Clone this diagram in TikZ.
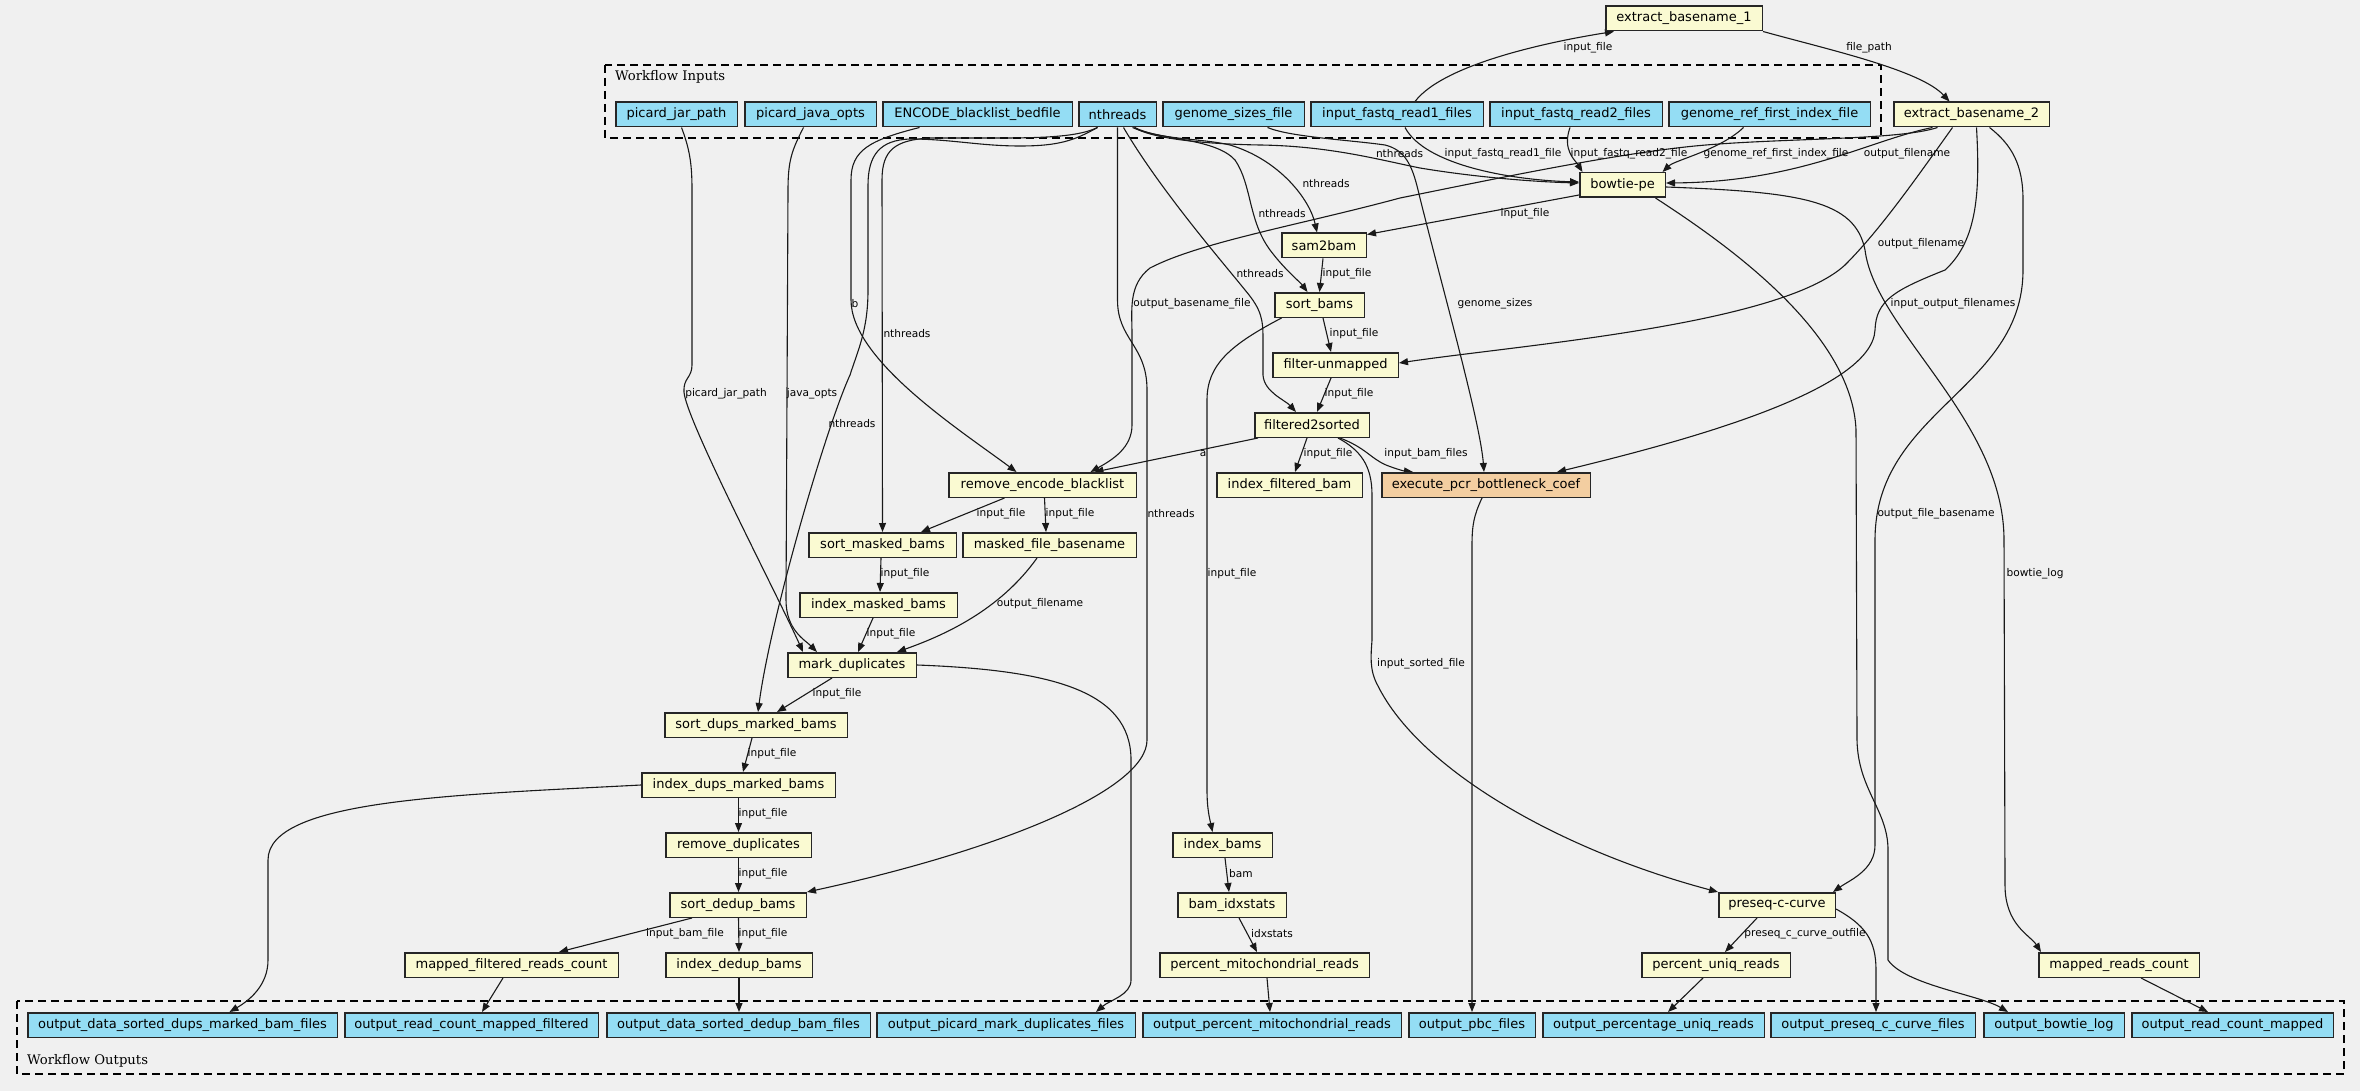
\documentclass[tikz,border=0pt]{standalone}
\usepackage{fontspec}
\setmainfont{DejaVu Sans}
\newfontfamily\ttlfont{DejaVu Serif}
\usetikzlibrary{arrows.meta}
\definecolor{bgc}{HTML}{F0F0F0}
\definecolor{inblue}{HTML}{94DDF4}
\definecolor{stepyel}{HTML}{FAFAD2}
\definecolor{pcrorange}{HTML}{F3CEA1}
\pgfdeclarelayer{bgl}
\pgfdeclarelayer{edgel}
\pgfsetlayers{bgl,edgel,main}
\begin{document}
\begin{tikzpicture}[x=1pt,y=-1pt,
  box/.style={draw=black!85, line width=1.5pt, inner sep=0pt, minimum height=24.5pt, font=\fontsize{13}{15}\selectfont},
  inp/.style={box, fill=inblue},
  stp/.style={box, fill=stepyel},
  pcr/.style={box, fill=pcrorange},
  edge/.style={draw=black!90, line width=1.1pt, -{Triangle[length=9pt,width=7pt]}},
  lbl/.style={font=\fontsize{10.6}{12}\selectfont, inner sep=0pt},
  cluster/.style={draw=black, line width=1.3pt, dash pattern=on 8pt off 5pt},
  ttl/.style={font=\ttlfont\fontsize{13.2}{15}\selectfont, anchor=west, inner sep=0pt}]
\useasboundingbox (0,0) rectangle (2360,1091);
\begin{pgfonlayer}{bgl}
\fill[bgc] (0,0) rectangle (2360,1091);
\draw[cluster] (605,65) rectangle (1881,138);
\draw[cluster] (17,1001) rectangle (2344,1074);
\end{pgfonlayer}
\node[ttl] (tin) at (615,77) {Workflow Inputs};
\node[ttl] (tout) at (27,1061) {Workflow Outputs};
% inputs
\node[inp, minimum width=121.5pt] (pjp) at (676.5,114.5) {picard\_jar\_path};
\node[inp, minimum width=131.5pt] (pjo) at (810.5,114.5) {picard\_java\_opts};
\node[inp, minimum width=189.5pt] (enc) at (977.5,114.5) {ENCODE\_blacklist\_bedfile};
\node[inp, minimum width=77.5pt] (nth) at (1117.5,114.5) {nthreads};
\node[inp, minimum width=141.5pt] (gsf) at (1233.5,114.5) {genome\_sizes\_file};
\node[inp, minimum width=172.5pt] (fq1) at (1397,114.5) {input\_fastq\_read1\_files};
\node[inp, minimum width=172.5pt] (fq2) at (1576,114.5) {input\_fastq\_read2\_files};
\node[inp, minimum width=201.5pt] (gref) at (1769.5,114.5) {genome\_ref\_first\_index\_file};
% steps
\node[stp, minimum width=155.5pt] (eb2) at (1971.5,114.5) {extract\_basename\_2};
\node[stp, minimum width=156.5pt] (eb1) at (1684,18.5) {extract\_basename\_1};
\node[stp, minimum width=85.5pt] (bow) at (1622.5,185) {bowtie-pe};
\node[stp, minimum width=84.5pt] (s2b) at (1324,245.5) {sam2bam};
\node[stp, minimum width=89.5pt] (sb) at (1319.5,305) {sort\_bams};
\node[stp, minimum width=125.5pt] (fu) at (1335.5,365) {filter-unmapped};
\node[stp, minimum width=114.5pt] (f2s) at (1312,425) {filtered2sorted};
\node[stp, minimum width=187.5pt] (rem) at (1042.5,485) {remove\_encode\_blacklist};
\node[stp, minimum width=145.5pt] (ifb) at (1289.5,485) {index\_filtered\_bam};
\node[pcr, minimum width=208.5pt] (ex) at (1486,485) {execute\_pcr\_bottleneck\_coef};
\node[stp, minimum width=147.5pt] (smb) at (882.5,545) {sort\_masked\_bams};
\node[stp, minimum width=173.5pt] (mfb) at (1049.5,545) {masked\_file\_basename};
\node[stp, minimum width=157.5pt] (imb) at (878.5,605) {index\_masked\_bams};
\node[stp, minimum width=128.5pt] (md) at (852,665) {mark\_duplicates};
\node[stp, minimum width=182.5pt] (sdm) at (756,725) {sort\_dups\_marked\_bams};
\node[stp, minimum width=193.5pt] (idm) at (738.5,785) {index\_dups\_marked\_bams};
\node[stp, minimum width=145.5pt] (rd) at (738.5,845) {remove\_duplicates};
\node[stp, minimum width=136.5pt] (sdb) at (738,905) {sort\_dedup\_bams};
\node[stp, minimum width=213.5pt] (mfrc) at (511.5,965) {mapped\_filtered\_reads\_count};
\node[stp, minimum width=146.5pt] (idb) at (739,965) {index\_dedup\_bams};
\node[stp, minimum width=99.5pt] (ib) at (1222.5,845) {index\_bams};
\node[stp, minimum width=108.5pt] (bix) at (1232,905) {bam\_idxstats};
\node[stp, minimum width=209.5pt] (pmr) at (1264.5,965) {percent\_mitochondrial\_reads};
\node[stp, minimum width=116.5pt] (pc) at (1777,905) {preseq-c-curve};
\node[stp, minimum width=148.5pt] (pur) at (1716,965) {percent\_uniq\_reads};
\node[stp, minimum width=160.5pt] (mrc) at (2119,965) {mapped\_reads\_count};
% outputs
\node[inp, minimum width=309.5pt] (o1) at (182.5,1025) {output\_data\_sorted\_dups\_marked\_bam\_files};
\node[inp, minimum width=253.5pt] (o2) at (471.5,1025) {output\_read\_count\_mapped\_filtered};
\node[inp, minimum width=263.5pt] (o3) at (738.5,1025) {output\_data\_sorted\_dedup\_bam\_files};
\node[inp, minimum width=258.5pt] (o4) at (1006,1025) {output\_picard\_mark\_duplicates\_files};
\node[inp, minimum width=258.5pt] (o5) at (1272,1025) {output\_percent\_mitochondrial\_reads};
\node[inp, minimum width=126.5pt] (o6) at (1472,1025) {output\_pbc\_files};
\node[inp, minimum width=221.5pt] (o7) at (1653.5,1025) {output\_percentage\_uniq\_reads};
\node[inp, minimum width=204.5pt] (o8) at (1873,1025) {output\_preseq\_c\_curve\_files};
\node[inp, minimum width=140.5pt] (o9) at (2054,1025) {output\_bowtie\_log};
\node[inp, minimum width=201.5pt] (o10) at (2232.5,1025) {output\_read\_count\_mapped};
% edges
\begin{pgfonlayer}{edgel}
\draw[edge] ([xshift=18pt]fq1.north) .. controls (1445,62) and (1560,40) .. ([xshift=-70pt]eb1.south);
\draw[edge] (eb1.south east) .. controls (1830,50) and (1920,70) .. ([xshift=-22pt]eb2.north);
\draw[edge] ([xshift=8pt]fq1.south) .. controls (1425,165) and (1510,180) .. ([yshift=3pt]bow.west);
\draw[edge] ([xshift=-6pt]fq2.south) .. controls (1562,150) and (1575,160) .. ([xshift=-40pt]bow.north);
\draw[edge] ([xshift=-26pt]gref.south) .. controls (1720,150) and (1675,160) .. ([xshift=40pt]bow.north);
\draw[edge] ([xshift=-39pt]eb2.south) .. controls (1870,140) and (1800,182) .. ([yshift=2pt]bow.east);
\draw[edge] ([xshift=-34pt]eb2.south) .. controls (1900,140) and (1790,138) .. (1706,145) .. controls (1620,152) and (1480,182) .. (1400,198) .. controls (1300,225) and (1200,242) .. (1150,268) .. controls (1128,285) and (1132,310) .. (1132,335) -- (1132,425) .. controls (1132,448) and (1112,460) .. ([xshift=48pt]rem.north);
\draw[edge] ([xshift=-19pt]eb2.south) .. controls (1915,180) and (1880,230) .. (1845,265) .. controls (1780,325) and (1520,345) .. ([yshift=2pt]fu.east);
\draw[edge] ([xshift=5pt]eb2.south) .. controls (1980,190) and (1978,240) .. (1945,270) .. controls (1895,290) and (1876,300) .. (1875,330) .. controls (1872,390) and (1690,440) .. ([xshift=71pt]ex.north);
\draw[edge] ([xshift=18pt]eb2.south) .. controls (2012,145) and (2023,165) .. (2023,200) -- (2023,270) .. controls (2023,390) and (1875,410) .. (1875,540) -- (1875,845) .. controls (1875,870) and (1850,880) .. ([xshift=-3pt]pc.north east);
\draw[edge] ([yshift=-2pt]bow.east) .. controls (1800,192) and (1855,200) .. (1865,250) .. controls (1875,330) and (2004,420) .. (2004,540) -- (2005,885) .. controls (2005,925) and (2030,935) .. ([xshift=-78pt]mrc.north);
\draw[edge] ([xshift=33pt]bow.south) .. controls (1720,240) and (1852,330) .. (1856,430) -- (1857,740) .. controls (1858,790) and (1888,810) .. (1888,850) -- (1888,960) .. controls (1905,985) and (1980,995) .. ([xshift=-46pt]o9.north);
\draw[edge] ([yshift=3pt]bow.south west) -- ([yshift=-2pt]s2b.north east);
\draw[edge] ([xshift=17pt]nth.south) .. controls (1150,138) and (1200,144) .. (1260,145) .. controls (1330,146) and (1380,160) .. (1420,168) .. controls (1480,178) and (1540,182) .. ([yshift=2pt]bow.west);
\draw[edge] ([xshift=17pt]nth.south) .. controls (1160,140) and (1200,138) .. (1230,145) .. controls (1280,160) and (1310,200) .. ([xshift=-7pt]s2b.north);
\draw[edge] ([xshift=15pt]nth.south) .. controls (1160,140) and (1215,138) .. (1235,160) .. controls (1252,185) and (1248,220) .. (1270,250) .. controls (1285,270) and (1300,282) .. ([xshift=-12pt]sb.north);
\draw[edge] ([xshift=6pt]nth.south) .. controls (1160,190) and (1225,265) .. (1245,290) .. controls (1262,310) and (1263,320) .. (1263,340) -- (1263,375) .. controls (1264,392) and (1285,400) .. ([xshift=-16pt]f2s.north);
\draw[edge] (nth.south) -- (1117.5,300) .. controls (1117.5,340) and (1147,345) .. (1147,390) -- (1147,740) .. controls (1147,790) and (1000,850) .. (sdb.north east);
\draw[edge] ([xshift=-20pt]nth.south) .. controls (1080,136) and (1050,138) .. (1000,138) -- (930,138) .. controls (895,140) and (882,150) .. (882,180) -- (smb.north);
\draw[edge] ([xshift=-20pt]nth.south) .. controls (1075,140) and (1060,146) .. (1020,146) .. controls (980,146) and (950,139) .. (910,139) .. controls (880,140) and (868,155) .. (868,185) -- (868,290) .. controls (868,330) and (858,350) .. (850,375) .. controls (825,430) and (770,620) .. ([xshift=2pt]sdm.north);
\draw[edge] ([xshift=-58pt]enc.south) .. controls (870,140) and (851,150) .. (851,180) -- (851,300) .. controls (851,360) and (960,430) .. ([xshift=-26pt]rem.north);
\draw[edge] ([xshift=5pt]pjp.south) .. controls (690,150) and (692,165) .. (692,190) -- (692,365) .. controls (692,378) and (683,378) .. (684,392) .. controls (686,420) and (775,590) .. ([xshift=-49pt]md.north);
\draw[edge] ([xshift=-7pt]pjo.south) .. controls (792,150) and (788,160) .. (788,190) -- (786,600) .. controls (786,630) and (805,640) .. ([xshift=-35pt]md.north);
\draw[edge] ([xshift=34pt]gsf.south) .. controls (1290,137) and (1350,140) .. (1385,145) .. controls (1405,150) and (1412,165) .. (1418,190) .. controls (1440,280) and (1480,420) .. ([xshift=-2pt]ex.north);
\draw[edge] ([xshift=-1pt]s2b.south) -- (sb.north);
\draw[edge] ([xshift=3.5pt]sb.south) -- ([xshift=-4.5pt]fu.north);
\draw[edge] ([xshift=-4.5pt]fu.south) -- ([xshift=5pt]f2s.north);
\draw[edge] ([xshift=-54pt]f2s.south) -- ([xshift=52pt]rem.north);
\draw[edge] ([xshift=-5pt]f2s.south) -- ([xshift=5.5pt]ifb.north);
\draw[edge] ([xshift=28pt]f2s.south) .. controls (1366,448) and (1370,458) .. (1386,465) .. controls (1396,469) and (1404,471) .. ([xshift=-73pt]ex.north);
\draw[edge] ([xshift=26pt]f2s.south) .. controls (1360,450) and (1372,465) .. (1372,495) -- (1372,640) .. controls (1371,655) and (1369,670) .. (1378,686) .. controls (1420,770) and (1560,850) .. ([xshift=-59pt]pc.north);
\draw[edge] ([xshift=-4pt]ex.south) .. controls (1474,515) and (1472,525) .. (1472,545) -- (o6.north);
\draw[edge] ([xshift=-38pt]rem.south) -- ([xshift=38.5pt]smb.north);
\draw[edge] ([xshift=2pt]rem.south) -- ([xshift=-3.5pt]mfb.north);
\draw[edge] ([xshift=-1.5pt]smb.south) -- ([xshift=1.5pt]imb.north);
\draw[edge] ([xshift=-5.5pt]imb.south) -- ([xshift=6pt]md.north);
\draw[edge] ([xshift=-12.5pt]mfb.south) .. controls (1000,610) and (945,635) .. ([xshift=45pt]md.north);
\draw[edge] ([xshift=-20pt]md.south) -- ([xshift=21pt]sdm.north);
\draw[edge] (md.east) .. controls (1050,670) and (1131,690) .. (1131,760) -- (1131,980) .. controls (1131,995) and (1110,1000) .. ([xshift=90pt]o4.north);
\draw[edge] ([xshift=-4pt]sdm.south) -- ([xshift=4.5pt]idm.north);
\draw[edge] (idm.south) -- (rd.north);
\draw[edge] (idm.west) .. controls (450,795) and (268,800) .. (268,860) -- (268,960) .. controls (268,985) and (250,1000) .. ([xshift=47pt]o1.north);
\draw[edge] (rd.south) -- ([xshift=0.5pt]sdb.north);
\draw[edge] ([xshift=-46pt]sdb.south) -- ([xshift=47.5pt]mfrc.north);
\draw[edge] ([xshift=0.5pt]sdb.south) -- (idb.north);
\draw[edge] ([xshift=-8.5pt]mfrc.south) -- ([xshift=10.5pt]o2.north);
\draw[edge] (idb.south) -- ([xshift=0.5pt]o3.north);
\draw[edge] ([xshift=-38pt]sb.south) .. controls (1230,345) and (1207,365) .. (1207,400) -- (1207,790) .. controls (1207,810) and (1210,820) .. ([xshift=-10pt]ib.north);
\draw[edge] ([xshift=2.5pt]ib.south) -- ([xshift=-3pt]bix.north);
\draw[edge] ([xshift=7pt]bix.south) -- ([xshift=-7.5pt]pmr.north);
\draw[edge] ([xshift=2.5pt]pmr.south) -- ([xshift=-2pt]o5.north);
\draw[edge] ([xshift=-20pt]pc.south) -- ([xshift=9pt]pur.north);
\draw[edge] ([yshift=-4pt]pc.east) .. controls (1865,925) and (1876,940) .. (1876,970) -- ([xshift=3pt]o8.north);
\draw[edge] ([xshift=-13pt]pur.south) -- ([xshift=14.5pt]o7.north);
\draw[edge] ([xshift=22pt]mrc.south) -- ([xshift=-24.5pt]o10.north);
\end{pgfonlayer}
% edge labels
\node[lbl] (L1) at (1588,48) {input\_file};
\node[lbl] (L2) at (1869,48) {file\_path};
\node[lbl] (L3) at (1399.5,154) {nthreads};
\node[lbl] (L4) at (1503,154) {input\_fastq\_read1\_file};
\node[lbl] (L5) at (1629,154) {input\_fastq\_read2\_file};
\node[lbl] (L6) at (1776,154) {genome\_ref\_first\_index\_file};
\node[lbl] (L7) at (1907,154) {output\_filename};
\node[lbl] (L8) at (1326,184) {nthreads};
\node[lbl] (L9) at (1282,214) {nthreads};
\node[lbl] (L10) at (1525,214) {input\_file};
\node[lbl] (L11) at (1260,274) {nthreads};
\node[lbl] (L12) at (1347,274) {input\_file};
\node[lbl] (L13) at (1921,244) {output\_filename};
\node[lbl] (L14) at (1192,304) {output\_basename\_file};
\node[lbl] (L15) at (1495,304) {genome\_sizes};
\node[lbl] (L16) at (1953,304) {input\_output\_filenames};
\node[lbl] (L17) at (855,304) {b};
\node[lbl] (L18) at (907,334) {nthreads};
\node[lbl] (L19) at (1354,334) {input\_file};
\node[lbl] (L20) at (726,394) {picard\_jar\_path};
\node[lbl] (L21) at (812,394) {java\_opts};
\node[lbl] (L22) at (1349,394) {input\_file};
\node[lbl] (L23) at (852,424) {nthreads};
\node[lbl] (L24) at (1203,454) {a};
\node[lbl] (L25) at (1328,454) {input\_file};
\node[lbl] (L26) at (1426,454) {input\_bam\_files};
\node[lbl] (L27) at (1001,514) {input\_file};
\node[lbl] (L28) at (1070,514) {input\_file};
\node[lbl] (L29) at (1171,514) {nthreads};
\node[lbl] (L30) at (1936,514) {output\_file\_basename};
\node[lbl] (L31) at (1232,574) {input\_file};
\node[lbl] (L32) at (905,574) {input\_file};
\node[lbl] (L33) at (2035,574) {bowtie\_log};
\node[lbl] (L34) at (1040,604) {output\_filename};
\node[lbl] (L35) at (891,634) {input\_file};
\node[lbl] (L36) at (1421,664) {input\_sorted\_file};
\node[lbl] (L37) at (837,694) {input\_file};
\node[lbl] (L38) at (772,754) {input\_file};
\node[lbl] (L39) at (763,814) {input\_file};
\node[lbl] (L40) at (763,874) {input\_file};
\node[lbl] (L41) at (1241,874) {bam};
\node[lbl] (L42) at (685,934) {input\_bam\_file};
\node[lbl] (L43) at (763,934) {input\_file};
\node[lbl] (L44) at (1272,934) {idxstats};
\node[lbl] (L45) at (1805,934) {preseq\_c\_curve\_outfile};
\end{tikzpicture}
\end{document}
